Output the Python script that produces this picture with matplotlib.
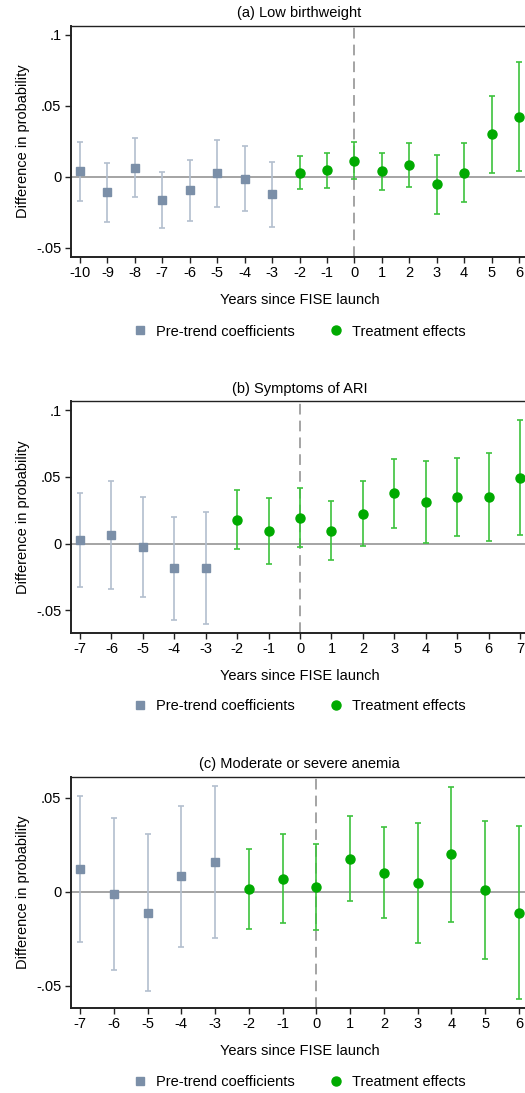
import matplotlib
matplotlib.use("Agg")
import matplotlib.pyplot as plt
from matplotlib.lines import Line2D

plt.rcParams['font.family'] = ['Liberation Sans', 'DejaVu Sans']

# (a) Low birthweight
a_pre_x = [-10, -9, -8, -7, -6, -5, -4, -3]
a_pre_y = [0.004, -0.011, 0.0063, -0.0164, -0.0094, 0.0026, -0.0016, -0.0122]
a_pre_hi = [0.0246, 0.0094, 0.027, 0.0035, 0.012, 0.0258, 0.0216, 0.0106]
a_pre_lo = [-0.0169, -0.0317, -0.0143, -0.0359, -0.031, -0.0211, -0.0244, -0.0354]
a_te_x = [-2, -1, 0, 1, 2, 3, 4, 5, 6]
a_te_y = [0.0028, 0.0045, 0.011, 0.0038, 0.008, -0.0054, 0.0028, 0.0298, 0.0423]
a_te_hi = [0.0146, 0.0169, 0.0242, 0.0169, 0.0237, 0.0153, 0.0235, 0.057, 0.0805]
a_te_lo = [-0.0087, -0.0082, -0.0019, -0.0094, -0.0075, -0.0263, -0.0178, 0.0023, 0.004]

# (b) Symptoms of ARI
b_pre_x = [-7, -6, -5, -4, -3]
b_pre_y = [0.0028, 0.0065, -0.0028, -0.0185, -0.018]
b_pre_hi = [0.038, 0.047, 0.035, 0.020, 0.0235]
b_pre_lo = [-0.0328, -0.034, -0.040, -0.057, -0.060]
b_te_x = [-2, -1, 0, 1, 2, 3, 4, 5, 6, 7]
b_te_y = [0.0178, 0.0098, 0.0195, 0.0098, 0.0225, 0.0378, 0.031, 0.035, 0.035, 0.0495]
b_te_hi = [0.040, 0.0345, 0.042, 0.032, 0.047, 0.0635, 0.062, 0.064, 0.068, 0.093]
b_te_lo = [-0.004, -0.015, -0.0028, -0.0125, -0.0018, 0.012, 0.0005, 0.0058, 0.002, 0.0068]

# (c) Moderate or severe anemia
c_pre_x = [-7, -6, -5, -4, -3]
c_pre_y = [0.012, -0.0012, -0.0112, 0.0083, 0.0158]
c_pre_hi = [0.051, 0.039, 0.0309, 0.0457, 0.0564]
c_pre_lo = [-0.027, -0.0417, -0.0527, -0.0294, -0.0248]
c_te_x = [-2, -1, 0, 1, 2, 3, 4, 5, 6]
c_te_y = [0.0014, 0.0069, 0.0023, 0.0176, 0.0101, 0.0046, 0.020, 0.0009, -0.0112]
c_te_hi = [0.0227, 0.0305, 0.0252, 0.0402, 0.0344, 0.0367, 0.0559, 0.0374, 0.0348]
c_te_lo = [-0.0199, -0.0167, -0.0204, -0.0051, -0.0142, -0.0273, -0.016, -0.0356, -0.0569]

titles = ["(a) Low birthweight", "(b) Symptoms of ARI", "(c) Moderate or severe anemia"]
xlabel = "Years since FISE launch"
ylabel = "Difference in probability"
legend_labels = ["Pre-trend coefficients", "Treatment effects"]

PRE_C = "#7B8FA8"
PRE_CI = "#B3BFCE"
TE_C = "#00AA00"
TE_CI = "#3DC23D"

W, H = 525, 1093
fig = plt.figure(figsize=(W / 100, H / 100), dpi=100)


def px_axes(left, top, bottom, right=546):
    return fig.add_axes([left / W, 1 - bottom / H, (right - left) / W, (bottom - top) / H])


panels = [
    dict(pre=(a_pre_x, a_pre_y, a_pre_lo, a_pre_hi), te=(a_te_x, a_te_y, a_te_lo, a_te_hi),
         top=25.7, bottom=256.7, step=27.44, ylim=(-0.0563, 0.1063),
         yticks=[-0.05, 0, 0.05, 0.1], yl=["-.05", "0", ".05", ".1"],
         title_y=13, xlab_y=300, leg_y=331.5),
    dict(pre=(b_pre_x, b_pre_y, b_pre_lo, b_pre_hi), te=(b_te_x, b_te_y, b_te_lo, b_te_hi),
         top=401.3, bottom=632.7, step=31.43, ylim=(-0.06675, 0.10675),
         yticks=[-0.05, 0, 0.05, 0.1], yl=["-.05", "0", ".05", ".1"],
         title_y=389, xlab_y=676, leg_y=706),
    dict(pre=(c_pre_x, c_pre_y, c_pre_lo, c_pre_hi), te=(c_te_x, c_te_y, c_te_lo, c_te_hi),
         top=777, bottom=1007.7, step=33.77, ylim=(-0.0617, 0.061),
         yticks=[-0.05, 0, 0.05], yl=["-.05", "0", ".05"],
         title_y=764, xlab_y=1051, leg_y=1082),
]

for p, title in zip(panels, titles):
    ax = px_axes(71, p['top'], p['bottom'])
    px, py, plo, phi = p['pre']
    tx, ty, tlo, thi = p['te']
    xmin = px[0] - 9 / p['step']
    xmax = xmin + (546 - 71) / p['step']

    ax.axhline(0, color="#8C8C8C", lw=1.1, zorder=1)
    ax.axvline(0, color="#8C8C8C", lw=1.1, ls=(0, (7, 4)), zorder=1)

    ax.errorbar(px, py, yerr=[[y - l for y, l in zip(py, plo)], [h - y for y, h in zip(py, phi)]],
                fmt="none", ecolor=PRE_CI, elinewidth=1.2, capsize=2.3, capthick=1.2, zorder=2)
    ax.plot(px, py, "s", color=PRE_C, ms=6.2, zorder=3)
    ax.errorbar(tx, ty, yerr=[[y - l for y, l in zip(ty, tlo)], [h - y for y, h in zip(ty, thi)]],
                fmt="none", ecolor=TE_CI, elinewidth=1.2, capsize=2.3, capthick=1.2, zorder=2)
    ax.plot(tx, ty, "o", color=TE_C, ms=6.5, zorder=3)

    ax.set_xlim(xmin, xmax)
    ax.set_ylim(*p['ylim'])
    ax.set_xticks(list(px) + list(tx))
    ax.set_xticklabels([str(v) for v in list(px) + list(tx)], fontsize=10.5)
    ax.set_yticks(p['yticks'])
    ax.set_yticklabels(p['yl'], fontsize=10.5)
    ax.tick_params(direction="out", length=4, width=1, color="#222222", pad=3)
    ax.spines['left'].set_linewidth(1.4)
    ax.spines['bottom'].set_linewidth(1.4)
    ax.spines['top'].set_linewidth(1.0)
    ax.spines['right'].set_visible(False)
    for s in ax.spines.values():
        s.set_color("#222222")
    ax.set_ylabel(ylabel, fontsize=10.5, labelpad=4)

    fig.text(299.5 / W, 1 - p['title_y'] / H, title, ha="center", va="center", fontsize=10.5)
    fig.text(299.5 / W, 1 - p['xlab_y'] / H, xlabel, ha="center", va="center", fontsize=10.5)
    handles = [Line2D([], [], marker="s", ls="none", color=PRE_C, ms=6.2),
               Line2D([], [], marker="o", ls="none", color=TE_C, ms=6.5)]
    fig.legend(handles, legend_labels, loc="center", bbox_to_anchor=(299 / W, 1 - p['leg_y'] / H),
               ncol=2, frameon=False, fontsize=10.5, handletextpad=0.6, columnspacing=2.3,
               handlelength=1.0)

fig.savefig("out.png", dpi=100)
